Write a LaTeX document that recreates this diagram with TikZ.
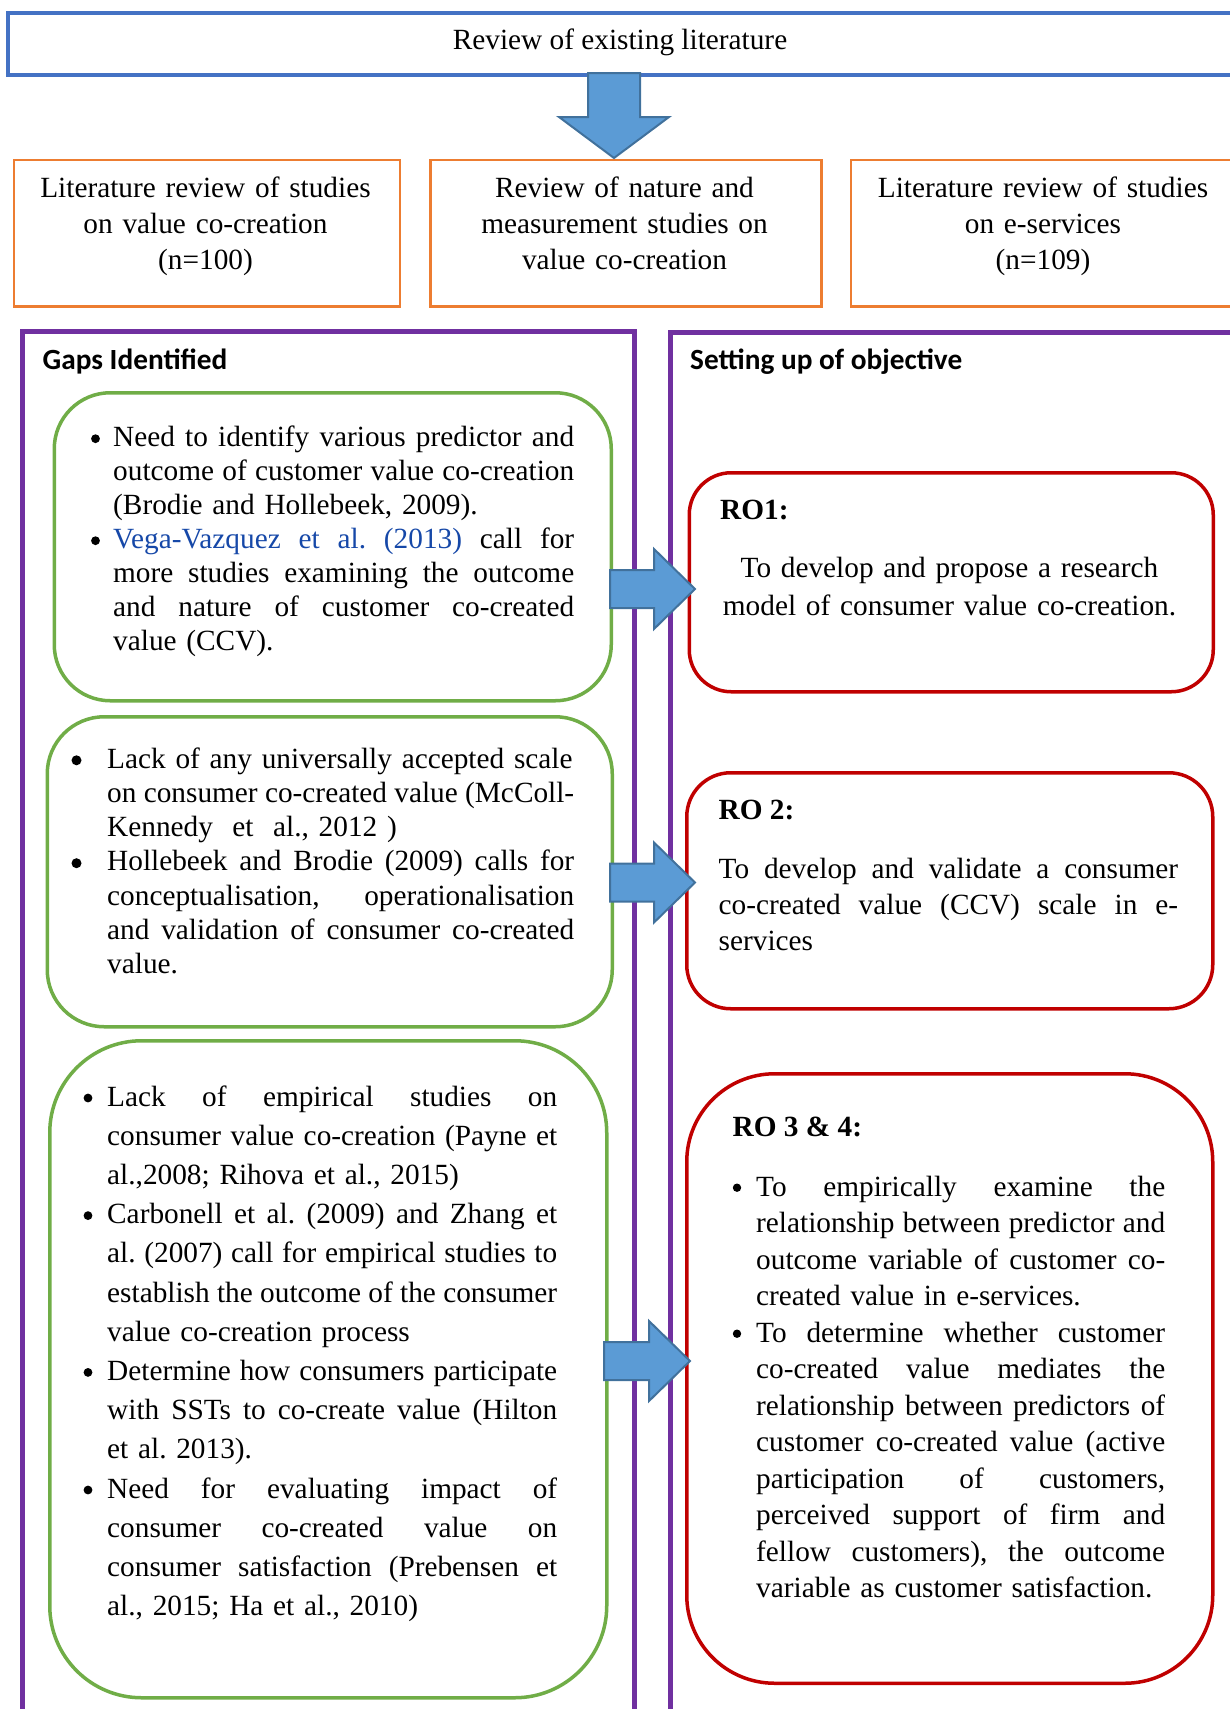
\documentclass[tikz,border=0pt]{standalone}
\usepackage{fontspec}
\setmainfont{Liberation Serif}
\newfontfamily\headfont{Carlito}
\usepackage{xcolor}
\definecolor{frameblue}{HTML}{4472C4}
\definecolor{srcorange}{HTML}{ED7D31}
\definecolor{panelpurple}{HTML}{7030A0}
\definecolor{gapgreen}{HTML}{70AD47}
\definecolor{rored}{HTML}{C00000}
\definecolor{arrowfill}{HTML}{5B9BD5}
\definecolor{arrowedge}{HTML}{41719C}
\definecolor{citeblue}{RGB}{22,72,168}
\frenchspacing
\newlength\jw
% stretchable word spaces for a justified line
\newcommand\fillspaces{\spaceskip=\fontdimen2\font plus 1fil minus .33\fontdimen2\font\relax}
% one justified line spanning the block width \jw
\newcommand\jline[1]{\leavevmode\hbox to\jw{\fillspaces#1}}
% horizontal block arrow: shaft start, head start, tip, centre y
\newcommand\rarrow[4]{%
  \draw[blockarrow] (#1,#4-19) -- (#2,#4-19) -- (#2,#4-40) -- (#3,#4)
    -- (#2,#4+40) -- (#2,#4+19) -- (#1,#4+19) -- cycle;}
\begin{document}
\begin{tikzpicture}[x=1pt,y=-1pt,
  frame/.style={draw, rectangle, inner sep=0pt, anchor=north west},
  topbox/.style={frame, draw=frameblue, line width=3.5pt},
  srcbox/.style={frame, draw=srcorange, line width=2.5pt},
  panel/.style={frame, draw=panelpurple, line width=5pt},
  gapbox/.style={frame, draw=gapgreen, line width=3.5pt},
  robox/.style={frame, draw=rored, line width=3.5pt},
  txt/.style={inner sep=0pt, anchor=base west},
  para/.style={txt, text width=#1, execute at begin node={\setlength{\jw}{#1}}},
  ctxt/.style={inner sep=0pt, anchor=base, align=center},
  head/.style={txt, font=\headfont\bfseries\fontsize{29.3pt}{34pt}\selectfont},
  blockarrow/.style={fill=arrowfill, draw=arrowedge, line width=2pt, line join=miter},
  dot/.style={fill=black},
]
\useasboundingbox (0,0) rectangle (1230,1709);
\clip (0,0) rectangle (1230,1709);

% ---- top: literature review ----
\node[topbox, minimum width=1300pt, minimum height=62pt] (review) at (6,11) {};
\node[ctxt, font=\fontsize{29.3pt}{34pt}\selectfont] (reviewtxt) at (620,49) {Review of existing literature};

% ---- three source boxes ----
\node[srcbox, minimum width=386pt, minimum height=146.5pt] (src1) at (12.5,158.5) {};
\node[srcbox, minimum width=391pt, minimum height=146.5pt] (src2) at (429,158.5) {};
\node[srcbox, minimum width=388pt, minimum height=146.5pt] (src3) at (849.5,158.5) {};
\begin{scope}[every node/.style={ctxt, text width=380pt, font=\fontsize{29.3pt}{36pt}\selectfont}]
\node (src1txt) at (205.5,197) {Literature review of studies\\on value co-creation\\(n=100)};
\node (src2txt) at (624.5,197) {Review of nature and\\measurement studies on\\value co-creation};
\node (src3txt) at (1043,197) {Literature review of studies\\on e-services\\(n=109)};
\end{scope}

% ---- two panels ----
\node[panel, minimum width=612.5pt, minimum height=1500pt] (gaps) at (19.5,329) {};
\node[panel, minimum width=700pt, minimum height=1500pt] (objs) at (667.5,330) {};
\node[head] (gapshead) at (42.5,369) {Gaps Identified};
\node[head] (objshead) at (690,369) {Setting up of objective};

% ---- gaps ----
\node[gapbox, minimum width=557pt, minimum height=308pt, rounded corners=56pt] (g1) at (52.5,391) {};
\node[gapbox, minimum width=565pt, minimum height=310pt, rounded corners=57pt] (g2) at (45.5,715) {};
\node[gapbox, minimum width=557pt, minimum height=657pt, rounded corners=92pt] (g3) at (48,1039) {};

\node[para=461pt, font=\fontsize{29.3pt}{34pt}\selectfont] (g1txt) at (113,446.7) {%
\jline{Need to identify various predictor and}\\
\jline{outcome of customer value co-creation}\\
(Brodie and Hollebeek, 2009).\\
\jline{\textcolor{citeblue}{Vega-Vazquez et al. (2013)} call for}\\
\jline{more studies examining the outcome}\\
\jline{and nature of customer co-created}\\
value (CCV).};

\node[para=467pt, font=\fontsize{29.3pt}{34.3pt}\selectfont] (g2txt) at (107,768) {%
Lack of any universally accepted scale\\
\jline{on consumer co-created value (McColl-}\\
Kennedy\ \ et\ \ al., 2012 )\\
\jline{Hollebeek and Brodie (2009) calls for}\\
\jline{conceptualisation, operationalisation}\\
\jline{and validation of consumer co-created}\\
value.};

\node[para=450pt, font=\fontsize{29.3pt}{39.2pt}\selectfont] (g3txt) at (107,1106) {%
\jline{Lack of empirical studies on}\\
\jline{consumer value co-creation (Payne et}\\
al.,2008; Rihova et al., 2015)\\
\jline{Carbonell et al. (2009) and Zhang et}\\
\jline{al. (2007) call for empirical studies to}\\
\jline{establish the outcome of the consumer}\\
value co-creation process\\
\jline{Determine how consumers participate}\\
\jline{with SSTs to co-create value (Hilton}\\
et al. 2013).\\
\jline{Need for evaluating impact of}\\
\jline{consumer co-created value on}\\
\jline{consumer satisfaction (Prebensen et}\\
al., 2015; Ha et al., 2010)};

% bullets of the gap lists
\foreach \y in {438.7, 540.7} \fill[dot] (95.5,\y) circle (4.4pt);
\foreach \y in {760.3, 863.2} \fill[dot] (76.5,\y) circle (5pt);
\foreach \y in {1098, 1215.6, 1372.4, 1490} \fill[dot] (88,\y) circle (4.4pt);

% ---- research objectives ----
\node[robox, minimum width=524pt, minimum height=219pt, rounded corners=42pt] (ro1) at (687.5,471) {};
\node[robox, minimum width=526pt, minimum height=236pt, rounded corners=44pt] (ro2) at (685,771) {};
\node[robox, minimum width=526pt, minimum height=609.5pt, rounded corners=88pt] (ro3) at (685,1072) {};

\begin{scope}[every node/.style={txt, font=\bfseries\fontsize{29.3pt}{34pt}\selectfont}]
\node (ro1head) at (720,519.5) {RO1:};
\node (ro2head) at (718.5,819) {RO 2:};
\node (ro3head) at (732.5,1136) {RO 3 \& 4:};
\end{scope}

\node[ctxt, text width=500pt, font=\fontsize{29.3pt}{38pt}\selectfont] (ro1txt) at (949.5,577) {%
To develop and propose a research\\model of consumer value co-creation.};

\node[para=459.5pt, font=\fontsize{29.3pt}{36pt}\selectfont] (ro2txt) at (718.5,878) {%
\jline{To develop and validate a consumer}\\
\jline{co-created value (CCV) scale in e-}\\
services};

\node[para=409pt, font=\fontsize{29.3pt}{36.5pt}\selectfont] (ro3txt) at (756,1196) {%
\jline{To empirically examine the}\\
\jline{relationship between predictor and}\\
\jline{outcome variable of customer co-}\\
created value in e-services.\\
\jline{To determine whether customer}\\
\jline{co-created value mediates the}\\
\jline{relationship between predictors of}\\
\jline{customer co-created value (active}\\
\jline{participation of customers,}\\
\jline{perceived support of firm and}\\
\jline{fellow customers), the outcome}\\
variable as customer satisfaction.};

% bullets of the objective list
\foreach \y in {1187.7, 1333.7} \fill[dot] (737,\y) circle (4.2pt);

% ---- block arrows ----
\draw[blockarrow] (588,73) -- (640,73) -- (640,117) -- (669,117) -- (614,158)
  -- (559,117) -- (588,117) -- cycle;
\rarrow{610}{654}{695}{589}
\rarrow{610}{654}{695}{882.5}
\rarrow{604}{649}{690}{1361}
\end{tikzpicture}
\end{document}
